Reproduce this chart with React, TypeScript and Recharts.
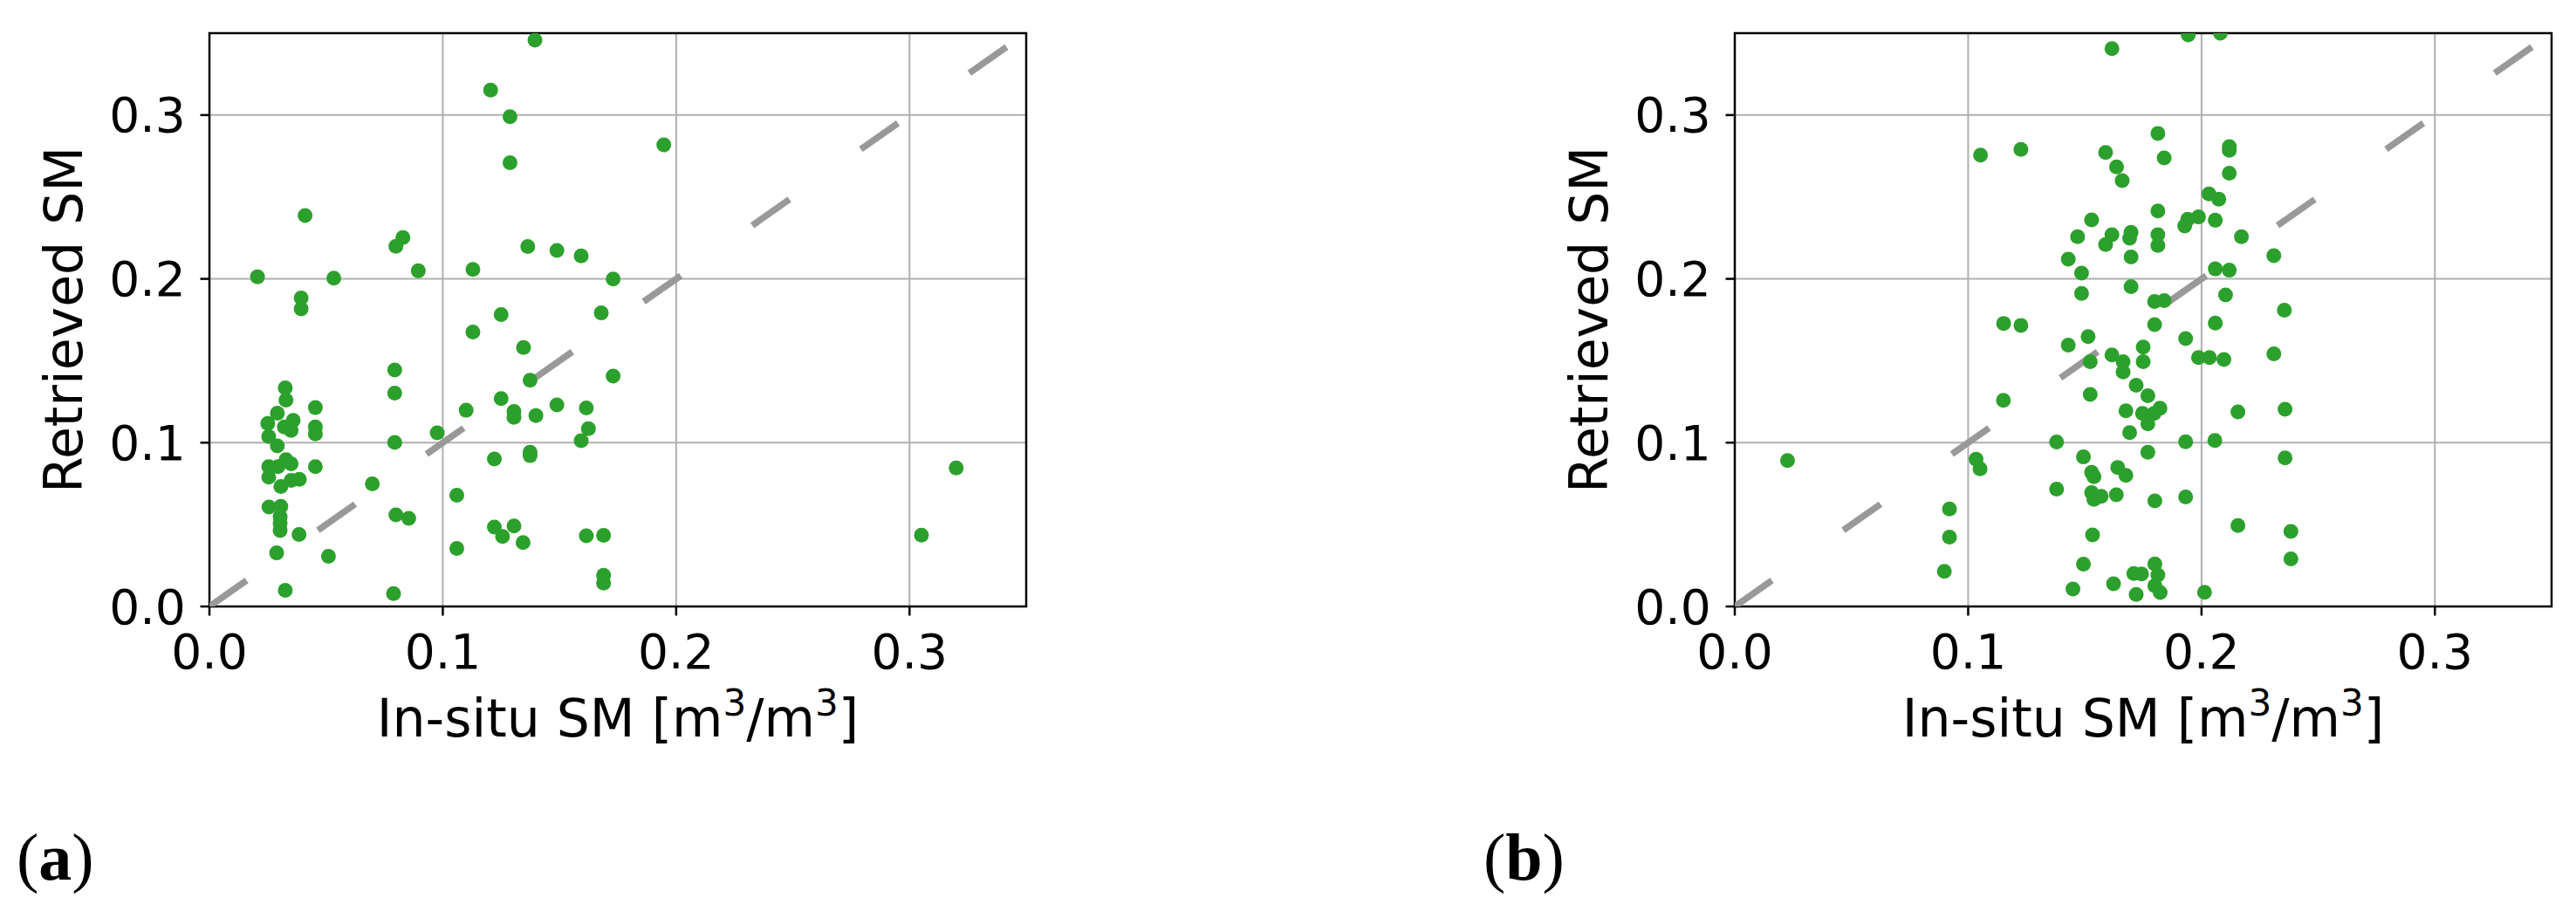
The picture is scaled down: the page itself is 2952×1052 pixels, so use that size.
import React from "react";
import {
  ScatterChart,
  Scatter,
  XAxis,
  YAxis,
  CartesianGrid,
  ReferenceLine,
  ReferenceArea,
  Label,
} from "recharts";

// ---------- data ----------
const axisTicks = [0, 0.1, 0.2, 0.3];
const axisMax = 0.35;
const xLabelText = "In-situ SM";
const yLabelText = "Retrieved SM";
const panelLabels = ["a", "b"];

// panel (a): [in-situ SM, retrieved SM]
const panelAPoints: [number, number][] = [
  [0.1395, 0.3457], [0.1205, 0.3152], [0.1288, 0.299], [0.1288, 0.2709], [0.1947, 0.2818],
  [0.041, 0.2387], [0.0799, 0.2199], [0.0829, 0.2252], [0.1364, 0.2197], [0.1489, 0.2174],
  [0.1593, 0.214], [0.0206, 0.2013], [0.0533, 0.2004], [0.0895, 0.2049], [0.1129, 0.2058],
  [0.173, 0.1999], [0.0393, 0.1883], [0.0393, 0.1817], [0.125, 0.1782], [0.1679, 0.1792],
  [0.1129, 0.1676], [0.1346, 0.1581], [0.0794, 0.1444], [0.173, 0.1406], [0.1374, 0.1381],
  [0.0794, 0.1303], [0.0325, 0.1335], [0.0328, 0.126], [0.125, 0.1269], [0.0454, 0.1214],
  [0.11, 0.1198], [0.1305, 0.1191], [0.1305, 0.1155], [0.1489, 0.1231], [0.1615, 0.1212],
  [0.1399, 0.1166], [0.1624, 0.1086], [0.1593, 0.1012], [0.0976, 0.106], [0.0794, 0.1001],
  [0.1221, 0.09], [0.1374, 0.0942], [0.1374, 0.0921], [0.0454, 0.1096], [0.0454, 0.1054],
  [0.0454, 0.0854], [0.0698, 0.0748], [0.106, 0.0679], [0.106, 0.0354], [0.0799, 0.0559],
  [0.0854, 0.0538], [0.1221, 0.0485], [0.1305, 0.0491], [0.1256, 0.0428], [0.1344, 0.039],
  [0.1615, 0.0432], [0.1689, 0.0434], [0.1689, 0.019], [0.1689, 0.0143], [0.3051, 0.0436],
  [0.32, 0.0846], [0.051, 0.0306], [0.0384, 0.0439], [0.0288, 0.0327], [0.0325, 0.0099],
  [0.0789, 0.0078], [0.0291, 0.118], [0.025, 0.1117], [0.0359, 0.1136], [0.0321, 0.1096],
  [0.035, 0.1075], [0.0254, 0.1037], [0.0291, 0.098], [0.0254, 0.0854], [0.0254, 0.079],
  [0.0328, 0.0896], [0.035, 0.0871], [0.0294, 0.0854], [0.0306, 0.0732], [0.035, 0.077],
  [0.0385, 0.0776], [0.0255, 0.0607], [0.0306, 0.0611], [0.0303, 0.0548], [0.0303, 0.0506],
  [0.0303, 0.0464],
];

// panel (b): [in-situ SM, retrieved SM]
const panelBPoints: [number, number][] = [
  [0.1943, 0.349], [0.2081, 0.35], [0.1616, 0.3406], [0.1813, 0.2888], [0.1053, 0.2755],
  [0.1226, 0.279], [0.1589, 0.2771], [0.1636, 0.2684], [0.166, 0.26], [0.184, 0.2738],
  [0.2119, 0.2808], [0.2119, 0.2785], [0.2119, 0.2645], [0.2032, 0.2519], [0.2074, 0.2487],
  [0.1813, 0.2415], [0.1529, 0.236], [0.1941, 0.2364], [0.1928, 0.2323], [0.1987, 0.2378],
  [0.2059, 0.2358], [0.1469, 0.2257], [0.1616, 0.227], [0.1589, 0.221], [0.1698, 0.2284],
  [0.1692, 0.2248], [0.1813, 0.227], [0.1813, 0.2204], [0.1698, 0.2133], [0.2171, 0.2257],
  [0.1429, 0.212], [0.231, 0.2142], [0.1486, 0.2035], [0.2059, 0.2061], [0.2119, 0.2053],
  [0.1486, 0.1911], [0.1698, 0.1952], [0.2103, 0.1902], [0.1799, 0.1862], [0.184, 0.1867],
  [0.2355, 0.1808], [0.1152, 0.1728], [0.1226, 0.1716], [0.1799, 0.1721], [0.2059, 0.173],
  [0.1514, 0.1647], [0.1932, 0.1636], [0.1429, 0.1595], [0.175, 0.1583], [0.175, 0.1494],
  [0.1616, 0.1535], [0.1664, 0.1494], [0.1664, 0.1432], [0.1523, 0.1494], [0.1987, 0.152],
  [0.2034, 0.152], [0.2096, 0.1508], [0.231, 0.1542], [0.172, 0.1351], [0.1523, 0.1295],
  [0.177, 0.1286], [0.1151, 0.1258], [0.1676, 0.1195], [0.1747, 0.1179], [0.1822, 0.121],
  [0.1797, 0.1179], [0.177, 0.1115], [0.2156, 0.1188], [0.2358, 0.1204], [0.1692, 0.1062],
  [0.1379, 0.1004], [0.1932, 0.1005], [0.2057, 0.1014], [0.1034, 0.0899], [0.1051, 0.084],
  [0.1494, 0.0913], [0.177, 0.0941], [0.2358, 0.0907], [0.1529, 0.0819], [0.1539, 0.0792],
  [0.1641, 0.0849], [0.1676, 0.0801], [0.1379, 0.0716], [0.1529, 0.0695], [0.1539, 0.0654],
  [0.157, 0.0673], [0.1635, 0.0682], [0.18, 0.0645], [0.1932, 0.0668], [0.092, 0.0595],
  [0.092, 0.0423], [0.1533, 0.0437], [0.2156, 0.0494], [0.2383, 0.0458], [0.2383, 0.029],
  [0.0898, 0.0215], [0.1494, 0.0258], [0.18, 0.026], [0.171, 0.0201], [0.1743, 0.0198],
  [0.1813, 0.0192], [0.18, 0.0126], [0.1823, 0.0085], [0.1623, 0.0139], [0.1449, 0.0107],
  [0.172, 0.0073], [0.2013, 0.0086], [0.0226, 0.0891],
];

// ---------- styling / layout ----------
const GREEN = "#2ca02c";
const GRID = "#b0b0b0";
const DASH = "#999999";
const FONT = "'DejaVu Sans', sans-serif";

const CHART_H = 900;
const Y_AXIS_W = 240;
const X_AXIS_H = 160;
const PLOT_TOP = 38;
const PLOT_W = 936;
const PLOT_H = 657;

const XAxisLabel = (props: any) => {
  const vb = props.viewBox || {};
  const x0 = vb.x ?? Y_AXIS_W;
  const w = vb.width ?? PLOT_W;
  const top = vb.y ?? PLOT_TOP + PLOT_H;
  return (
    <text
      x={x0 + w / 2}
      y={top + 149}
      textAnchor="middle"
      fontFamily={FONT}
      fontSize={60}
      fill="#000"
    >
      {xLabelText} [m
      <tspan dy={-24} fontSize={42}>3</tspan>
      <tspan dy={24}>/m</tspan>
      <tspan dy={-24} fontSize={42}>3</tspan>
      <tspan dy={24}>]</tspan>
    </text>
  );
};

const YAxisLabel = (props: any) => {
  const vb = props.viewBox || {};
  const x0 = vb.x ?? 0;
  const w = vb.width ?? Y_AXIS_W;
  const y0 = vb.y ?? PLOT_TOP;
  const h = vb.height ?? PLOT_H;
  const bx = x0 + w - 146;
  const cy = y0 + h / 2;
  return (
    <text
      x={bx}
      y={cy}
      transform={`rotate(-90, ${bx}, ${cy})`}
      textAnchor="middle"
      fontFamily={FONT}
      fontSize={60}
      fill="#000"
    >
      {yLabelText}
    </text>
  );
};

const Dot = (p: any) => <circle cx={p.cx} cy={p.cy} r={8.5} fill={GREEN} />;

const Panel = ({ points, width }: { points: [number, number][]; width: number }) => {
  const data = points.map(([x, y]) => ({ x, y }));
  const tickStyle = { fontSize: 55, fill: "#000", fontFamily: FONT };
  return (
    <ScatterChart
      width={width}
      height={CHART_H}
      margin={{ top: PLOT_TOP, right: width - Y_AXIS_W - PLOT_W, bottom: CHART_H - PLOT_TOP - PLOT_H - X_AXIS_H, left: 0 }}
    >
      <CartesianGrid stroke={GRID} strokeWidth={2} />
      <XAxis
        type="number"
        dataKey="x"
        domain={[0, axisMax]}
        ticks={axisTicks}
        allowDataOverflow
        tickFormatter={(v: number) => v.toFixed(1)}
        height={X_AXIS_H}
        axisLine={false}
        tickLine={{ stroke: "#000", strokeWidth: 2.5 }}
        tickSize={10.5}
        tickMargin={21}
        tick={tickStyle}
        interval={0}
      >
        <Label content={XAxisLabel} />
      </XAxis>
      <YAxis
        type="number"
        dataKey="y"
        domain={[0, axisMax]}
        ticks={axisTicks}
        allowDataOverflow
        tickFormatter={(v: number) => v.toFixed(1)}
        width={Y_AXIS_W}
        axisLine={false}
        tickLine={{ stroke: "#000", strokeWidth: 2.5 }}
        tickSize={10.5}
        tickMargin={16.8}
        tick={tickStyle}
        interval={0}
      >
        <Label content={YAxisLabel} />
      </YAxis>
      <Scatter data={data} shape={Dot} isAnimationActive={false} />
      <ReferenceLine
        segment={[{ x: 0, y: 0 }, { x: axisMax, y: axisMax }]}
        stroke={DASH}
        strokeWidth={7.5}
        strokeDasharray="52 100"
        ifOverflow="hidden"
      />
      <ReferenceArea
        x1={0}
        x2={axisMax}
        y1={0}
        y2={axisMax}
        fill="none"
        fillOpacity={0}
        stroke="#000"
        strokeWidth={2.5}
        ifOverflow="visible"
      />
    </ScatterChart>
  );
};

const PanelTag = ({ letter, x }: { letter: string; x: number }) => (
  <text x={x} y={1008} fontFamily="'Liberation Serif', serif" fontSize={76} fill="#000">
    (<tspan fontWeight="bold">{letter}</tspan>)
  </text>
);

export default function App() {
  return (
    <div
      style={{
        position: "absolute",
        left: 0,
        top: 0,
        width: 2952,
        height: 1052,
        background: "#fff",
        overflow: "hidden",
      }}
    >
      <div style={{ position: "absolute", left: 0, top: 0 }}>
        <Panel points={panelAPoints} width={1250} />
      </div>
      <div style={{ position: "absolute", left: 1748, top: 0 }}>
        <Panel points={panelBPoints} width={1204} />
      </div>
      <svg
        width={2952}
        height={1052}
        style={{ position: "absolute", left: 0, top: 0, pointerEvents: "none" }}
      >
        <PanelTag letter={panelLabels[0]} x={19} />
        <PanelTag letter={panelLabels[1]} x={1700} />
      </svg>
    </div>
  );
}
